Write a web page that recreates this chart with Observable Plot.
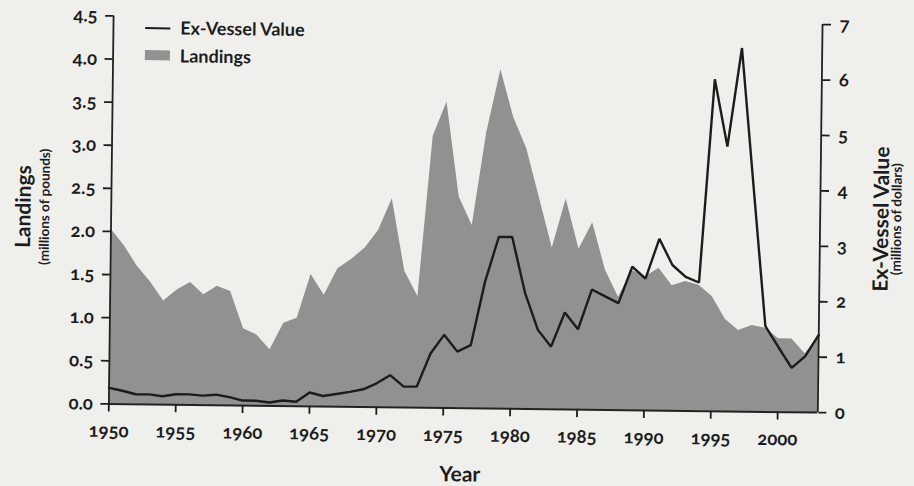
<!DOCTYPE html>
<html><head><meta charset="utf-8">
<script src="https://cdn.jsdelivr.net/npm/d3@7"></script>
<script src="https://cdn.jsdelivr.net/npm/@observablehq/plot@0.6"></script>
<style>
html,body{margin:0;padding:0;background:#efefec;overflow:hidden;}
#wrap{position:relative;width:914px;height:486px;transform:rotate(0.7deg);transform-origin:465.2px 213.75px;font-family:Lato,"Open Sans",sans-serif;color:#1d1d1d;}
#wrap svg{position:absolute;left:0;top:0;}
#wrap svg text{font-variant-numeric:oldstyle-nums;font-feature-settings:"onum" 1;}
.lab{position:absolute;white-space:nowrap;font-weight:700;line-height:1;}
.rot{transform:translate(-50%,-50%) rotate(-90deg);}
.leg{transform:translateY(-50%);font-size:18px;}
.sw{position:absolute;}
</style></head><body><div id="wrap"></div>
<script>
const years = [1950,1951,1952,1953,1954,1955,1956,1957,1958,1959,1960,1961,1962,1963,1964,1965,1966,1967,1968,1969,1970,1971,1972,1973,1974,1975,1976,1977,1978,1979,1980,1981,1982,1983,1984,1985,1986,1987,1988,1989,1990,1991,1992,1993,1994,1995,1996,1997,1998,1999,2000,2001,2002,2003];
// Landings, millions of pounds (left axis)
const landings = [2.03,1.84,1.60,1.42,1.20,1.33,1.42,1.28,1.38,1.32,0.89,0.82,0.65,0.96,1.02,1.53,1.29,1.60,1.71,1.84,2.05,2.42,1.58,1.29,3.15,3.55,2.45,2.12,3.20,3.93,3.38,3.02,2.45,1.87,2.44,1.86,2.17,1.62,1.31,1.62,1.55,1.65,1.45,1.50,1.46,1.33,1.07,0.94,1.00,0.97,0.85,0.85,0.68,0.88];
// Ex-vessel value, millions of dollars (right axis)
const exVessel = [0.29,0.24,0.18,0.18,0.15,0.19,0.19,0.17,0.19,0.15,0.09,0.09,0.06,0.10,0.08,0.25,0.19,0.23,0.27,0.32,0.43,0.58,0.38,0.38,0.98,1.32,1.02,1.14,2.28,3.10,3.10,2.10,1.43,1.13,1.75,1.45,2.17,2.05,1.93,2.59,2.38,3.10,2.63,2.42,2.32,5.99,4.78,6.56,4.05,1.55,1.17,0.80,1.01,1.40];
const leftTicks = [0,0.5,1.0,1.5,2.0,2.5,3.0,3.5,4.0,4.5];
const rightTicks = [0,1,2,3,4,5,6,7];
const xTicks = [1950,1955,1960,1965,1970,1975,1980,1985,1990,1995,2000];
const legendLabels = ["Ex-Vessel Value","Landings"];
const titles = {left:"Landings", leftSub:"(millions of pounds)", right:"Ex-Vessel Value", rightSub:"(millions of dollars)", x:"Year"};

const fillColor = "#919191";
const lineColor = "#1c1c1c";
const k = leftTicks[leftTicks.length-1] / rightTicks[rightTicks.length-1];
const data = years.map((year,i)=>({year, landings: landings[i], value: exVessel[i]}));

const chart = Plot.plot({
  width: 914, height: 486,
  marginLeft: 110.7, marginRight: 94.3, marginTop: 19.75, marginBottom: 78.25,
  x: {domain: [years[0], years[years.length-1]]},
  y: {domain: [leftTicks[0], leftTicks[leftTicks.length-1]]},
  style: {fontFamily: "Lato, 'Open Sans', sans-serif", fontSize: "18.5px", fontWeight: 700, background: "transparent", color: "#1d1d1d"},
  marks: [
    Plot.areaY(data, {x: "year", y: "landings", fill: fillColor}),
    Plot.lineY(data, {x: "year", y: d => d.value * k, stroke: lineColor, strokeWidth: 2.4, strokeLinejoin: "miter"}),
    Plot.ruleY([leftTicks[0]], {stroke: "#222", strokeWidth: 2}),
    Plot.ruleX([years[0], years[years.length-1]], {y1: leftTicks[0], y2: leftTicks[leftTicks.length-1], stroke: "#222", strokeWidth: 1.8}),
    Plot.axisX({ticks: xTicks, tickFormat: d => String(d), tickSize: 8, tickPadding: 12, strokeWidth: 1.8, label: null}),
    Plot.axisY({anchor: "left", ticks: leftTicks, tickFormat: d => d.toFixed(1), tickSize: 8, tickPadding: 8, strokeWidth: 1.8, label: null}),
    Plot.axisY({anchor: "right", ticks: rightTicks.map(v => v * k), tickFormat: d => String(Math.round(d / k)), tickSize: 8, tickPadding: 9, strokeWidth: 1.8, label: null})
  ]
});
const wrap = document.getElementById("wrap");
wrap.appendChild(chart);

function addLab(text, cls, css){
  const d = document.createElement("div");
  d.className = "lab " + cls;
  d.textContent = text;
  Object.assign(d.style, css);
  wrap.appendChild(d);
  return d;
}
// axis titles
addLab(titles.left, "rot", {left:"22px", top:"212px", fontSize:"21px"});
addLab(titles.leftSub, "rot", {left:"45px", top:"212px", fontSize:"13.5px"});
addLab(titles.right, "rot", {left:"880px", top:"214px", fontSize:"21px"});
addLab(titles.rightSub, "rot", {left:"897px", top:"214px", fontSize:"13.5px"});
addLab(titles.x, "", {left:"463px", top:"473px", fontSize:"21px", transform:"translate(-50%,-50%)"});
// legend
const sw1 = document.createElement("div");
sw1.className = "sw";
Object.assign(sw1.style, {left:"143px", top:"30.6px", width:"25px", height:"0", borderTop:"2.5px solid " + lineColor});
wrap.appendChild(sw1);
const sw2 = document.createElement("div");
sw2.className = "sw";
Object.assign(sw2.style, {left:"143px", top:"53.8px", width:"25px", height:"10px", background: fillColor});
wrap.appendChild(sw2);
addLab(legendLabels[0], "leg", {left:"178px", top:"30.5px"});
addLab(legendLabels[1], "leg", {left:"178px", top:"58.5px"});
</script>
</body></html>
